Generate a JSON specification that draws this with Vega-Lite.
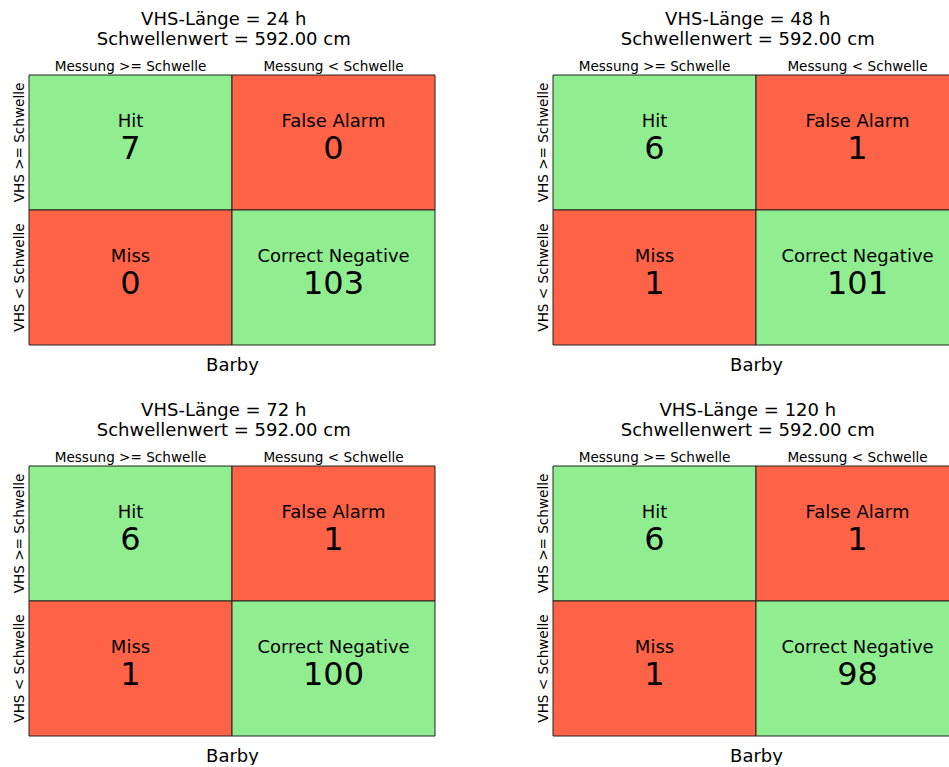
{
  "$schema": "https://vega.github.io/schema/vega-lite/v6.json",
  "padding": {"left": 11, "top": 11, "right": 0, "bottom": 0},
  "background": "white",
  "data": {"values": [
    {"h": 24, "col": "Messung >= Schwelle", "row": "VHS >= Schwelle", "type": "Hit", "count": 7},
    {"h": 24, "col": "Messung < Schwelle", "row": "VHS >= Schwelle", "type": "False Alarm", "count": 0},
    {"h": 24, "col": "Messung >= Schwelle", "row": "VHS < Schwelle", "type": "Miss", "count": 0},
    {"h": 24, "col": "Messung < Schwelle", "row": "VHS < Schwelle", "type": "Correct Negative", "count": 103},
    {"h": 48, "col": "Messung >= Schwelle", "row": "VHS >= Schwelle", "type": "Hit", "count": 6},
    {"h": 48, "col": "Messung < Schwelle", "row": "VHS >= Schwelle", "type": "False Alarm", "count": 1},
    {"h": 48, "col": "Messung >= Schwelle", "row": "VHS < Schwelle", "type": "Miss", "count": 1},
    {"h": 48, "col": "Messung < Schwelle", "row": "VHS < Schwelle", "type": "Correct Negative", "count": 101},
    {"h": 72, "col": "Messung >= Schwelle", "row": "VHS >= Schwelle", "type": "Hit", "count": 6},
    {"h": 72, "col": "Messung < Schwelle", "row": "VHS >= Schwelle", "type": "False Alarm", "count": 1},
    {"h": 72, "col": "Messung >= Schwelle", "row": "VHS < Schwelle", "type": "Miss", "count": 1},
    {"h": 72, "col": "Messung < Schwelle", "row": "VHS < Schwelle", "type": "Correct Negative", "count": 100},
    {"h": 120, "col": "Messung >= Schwelle", "row": "VHS >= Schwelle", "type": "Hit", "count": 6},
    {"h": 120, "col": "Messung < Schwelle", "row": "VHS >= Schwelle", "type": "False Alarm", "count": 1},
    {"h": 120, "col": "Messung >= Schwelle", "row": "VHS < Schwelle", "type": "Miss", "count": 1},
    {"h": 120, "col": "Messung < Schwelle", "row": "VHS < Schwelle", "type": "Correct Negative", "count": 98}
  ]},
  "columns": 2,
  "spacing": {"column": 99, "row": 28},
  "concat": [
    {
      "title": {"text": ["VHS-Länge = 24 h", "Schwellenwert = 592.00 cm"]},
      "width": 406, "height": 270,
      "transform": [{"filter": "datum.h == 24"}],
      "resolve": {"axis": {"x": "independent"}},
      "encoding": {
        "y": {"field": "row", "type": "nominal", "sort": ["VHS >= Schwelle", "VHS < Schwelle"], "scale": {"paddingInner": 0, "paddingOuter": 0}, "axis": {"title": null, "labelAngle": -90, "labelAlign": "center", "labelBaseline": "bottom", "labelPadding": 3}}
      },
      "layer": [
        {"mark": {"type": "rect", "stroke": "#222222", "strokeWidth": 1},
         "encoding": {
           "x": {"field": "col", "type": "nominal", "sort": ["Messung >= Schwelle", "Messung < Schwelle"], "scale": {"paddingInner": 0, "paddingOuter": 0}, "axis": {"orient": "top", "title": null, "labelAngle": 0, "labelPadding": 2}},
           "color": {"field": "type", "type": "nominal", "scale": {"domain": ["Hit", "False Alarm", "Miss", "Correct Negative"], "range": ["#90EE90", "#FF6347", "#FF6347", "#90EE90"]}, "legend": null}
         }},
        {"mark": {"type": "text", "font": "DejaVu Sans", "fontSize": 18, "baseline": "alphabetic", "dy": -16, "color": "black"},
         "encoding": {
           "x": {"field": "col", "type": "nominal", "sort": ["Messung >= Schwelle", "Messung < Schwelle"], "axis": {"orient": "bottom", "title": "Barby", "labels": false, "titlePadding": 11}},
           "text": {"field": "type"}
         }},
        {"mark": {"type": "text", "font": "DejaVu Sans", "fontSize": 32, "baseline": "alphabetic", "dy": 16, "color": "black"},
         "encoding": {
           "x": {"field": "col", "type": "nominal", "sort": ["Messung >= Schwelle", "Messung < Schwelle"], "axis": null},
           "text": {"field": "count"}
         }}
      ]
    },
    {
      "title": {"text": ["VHS-Länge = 48 h", "Schwellenwert = 592.00 cm"]},
      "width": 406, "height": 270,
      "transform": [{"filter": "datum.h == 48"}],
      "resolve": {"axis": {"x": "independent"}},
      "encoding": {
        "y": {"field": "row", "type": "nominal", "sort": ["VHS >= Schwelle", "VHS < Schwelle"], "scale": {"paddingInner": 0, "paddingOuter": 0}, "axis": {"title": null, "labelAngle": -90, "labelAlign": "center", "labelBaseline": "bottom", "labelPadding": 3}}
      },
      "layer": [
        {"mark": {"type": "rect", "stroke": "#222222", "strokeWidth": 1},
         "encoding": {
           "x": {"field": "col", "type": "nominal", "sort": ["Messung >= Schwelle", "Messung < Schwelle"], "scale": {"paddingInner": 0, "paddingOuter": 0}, "axis": {"orient": "top", "title": null, "labelAngle": 0, "labelPadding": 2}},
           "color": {"field": "type", "type": "nominal", "scale": {"domain": ["Hit", "False Alarm", "Miss", "Correct Negative"], "range": ["#90EE90", "#FF6347", "#FF6347", "#90EE90"]}, "legend": null}
         }},
        {"mark": {"type": "text", "font": "DejaVu Sans", "fontSize": 18, "baseline": "alphabetic", "dy": -16, "color": "black"},
         "encoding": {
           "x": {"field": "col", "type": "nominal", "sort": ["Messung >= Schwelle", "Messung < Schwelle"], "axis": {"orient": "bottom", "title": "Barby", "labels": false, "titlePadding": 11}},
           "text": {"field": "type"}
         }},
        {"mark": {"type": "text", "font": "DejaVu Sans", "fontSize": 32, "baseline": "alphabetic", "dy": 16, "color": "black"},
         "encoding": {
           "x": {"field": "col", "type": "nominal", "sort": ["Messung >= Schwelle", "Messung < Schwelle"], "axis": null},
           "text": {"field": "count"}
         }}
      ]
    },
    {
      "title": {"text": ["VHS-Länge = 72 h", "Schwellenwert = 592.00 cm"]},
      "width": 406, "height": 270,
      "transform": [{"filter": "datum.h == 72"}],
      "resolve": {"axis": {"x": "independent"}},
      "encoding": {
        "y": {"field": "row", "type": "nominal", "sort": ["VHS >= Schwelle", "VHS < Schwelle"], "scale": {"paddingInner": 0, "paddingOuter": 0}, "axis": {"title": null, "labelAngle": -90, "labelAlign": "center", "labelBaseline": "bottom", "labelPadding": 3}}
      },
      "layer": [
        {"mark": {"type": "rect", "stroke": "#222222", "strokeWidth": 1},
         "encoding": {
           "x": {"field": "col", "type": "nominal", "sort": ["Messung >= Schwelle", "Messung < Schwelle"], "scale": {"paddingInner": 0, "paddingOuter": 0}, "axis": {"orient": "top", "title": null, "labelAngle": 0, "labelPadding": 2}},
           "color": {"field": "type", "type": "nominal", "scale": {"domain": ["Hit", "False Alarm", "Miss", "Correct Negative"], "range": ["#90EE90", "#FF6347", "#FF6347", "#90EE90"]}, "legend": null}
         }},
        {"mark": {"type": "text", "font": "DejaVu Sans", "fontSize": 18, "baseline": "alphabetic", "dy": -16, "color": "black"},
         "encoding": {
           "x": {"field": "col", "type": "nominal", "sort": ["Messung >= Schwelle", "Messung < Schwelle"], "axis": {"orient": "bottom", "title": "Barby", "labels": false, "titlePadding": 11}},
           "text": {"field": "type"}
         }},
        {"mark": {"type": "text", "font": "DejaVu Sans", "fontSize": 32, "baseline": "alphabetic", "dy": 16, "color": "black"},
         "encoding": {
           "x": {"field": "col", "type": "nominal", "sort": ["Messung >= Schwelle", "Messung < Schwelle"], "axis": null},
           "text": {"field": "count"}
         }}
      ]
    },
    {
      "title": {"text": ["VHS-Länge = 120 h", "Schwellenwert = 592.00 cm"]},
      "width": 406, "height": 270,
      "transform": [{"filter": "datum.h == 120"}],
      "resolve": {"axis": {"x": "independent"}},
      "encoding": {
        "y": {"field": "row", "type": "nominal", "sort": ["VHS >= Schwelle", "VHS < Schwelle"], "scale": {"paddingInner": 0, "paddingOuter": 0}, "axis": {"title": null, "labelAngle": -90, "labelAlign": "center", "labelBaseline": "bottom", "labelPadding": 3}}
      },
      "layer": [
        {"mark": {"type": "rect", "stroke": "#222222", "strokeWidth": 1},
         "encoding": {
           "x": {"field": "col", "type": "nominal", "sort": ["Messung >= Schwelle", "Messung < Schwelle"], "scale": {"paddingInner": 0, "paddingOuter": 0}, "axis": {"orient": "top", "title": null, "labelAngle": 0, "labelPadding": 2}},
           "color": {"field": "type", "type": "nominal", "scale": {"domain": ["Hit", "False Alarm", "Miss", "Correct Negative"], "range": ["#90EE90", "#FF6347", "#FF6347", "#90EE90"]}, "legend": null}
         }},
        {"mark": {"type": "text", "font": "DejaVu Sans", "fontSize": 18, "baseline": "alphabetic", "dy": -16, "color": "black"},
         "encoding": {
           "x": {"field": "col", "type": "nominal", "sort": ["Messung >= Schwelle", "Messung < Schwelle"], "axis": {"orient": "bottom", "title": "Barby", "labels": false, "titlePadding": 11}},
           "text": {"field": "type"}
         }},
        {"mark": {"type": "text", "font": "DejaVu Sans", "fontSize": 32, "baseline": "alphabetic", "dy": 16, "color": "black"},
         "encoding": {
           "x": {"field": "col", "type": "nominal", "sort": ["Messung >= Schwelle", "Messung < Schwelle"], "axis": null},
           "text": {"field": "count"}
         }}
      ]
    }
  ],
  "config": {
    "font": "DejaVu Sans",
    "view": {"stroke": null},
    "title": {"font": "DejaVu Sans", "fontSize": 18, "fontWeight": "normal", "color": "black", "anchor": "middle", "frame": "bounds", "lineHeight": 20, "offset": 10},
    "axis": {"labelFont": "DejaVu Sans", "labelFontSize": 13.6, "labelColor": "black", "titleFont": "DejaVu Sans", "titleFontSize": 18, "titleFontWeight": "normal", "titleColor": "black", "ticks": false, "tickSize": 0, "domain": false, "grid": false}
  }
}
